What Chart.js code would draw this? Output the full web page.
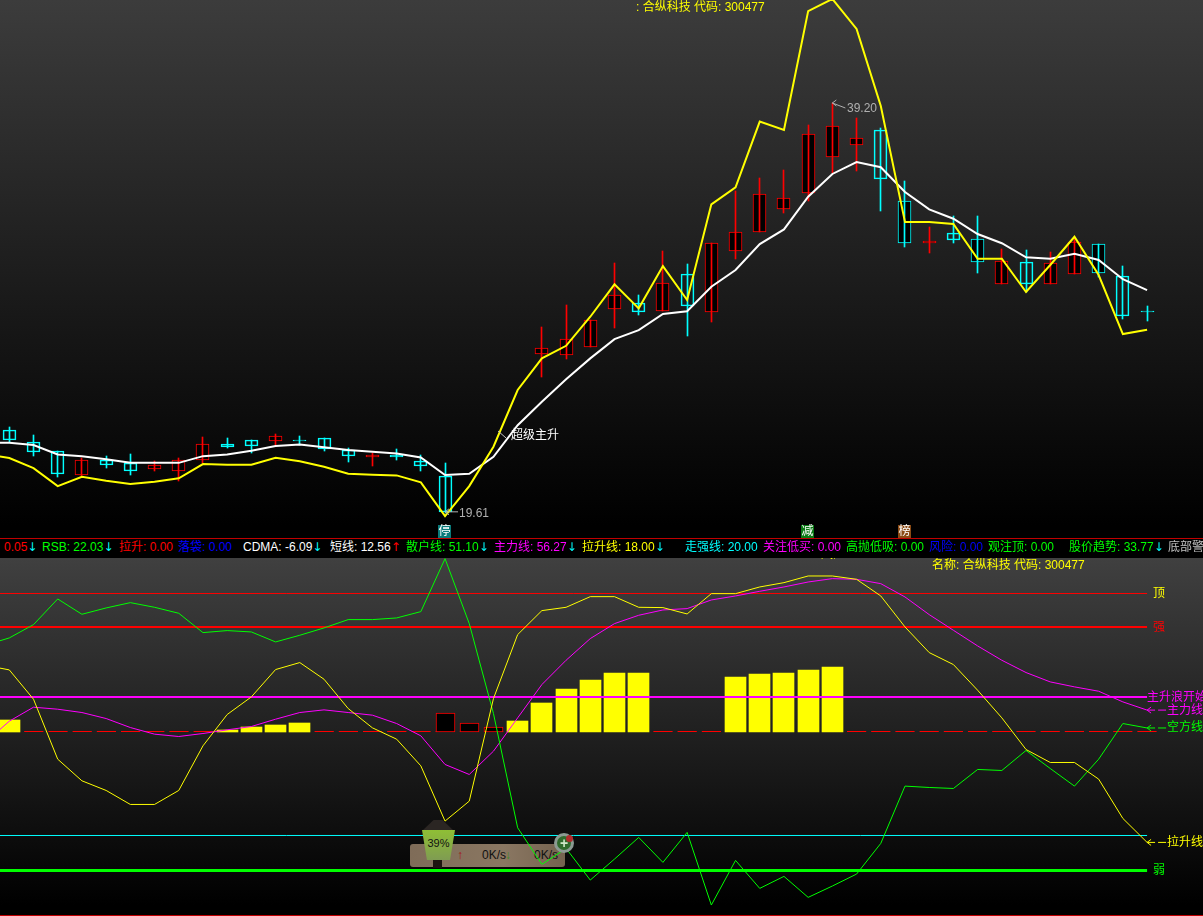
<!DOCTYPE html>
<html>
<head>
<meta charset="utf-8">
<title>合纵科技 300477</title>
<script src="https://cdn.jsdelivr.net/npm/chart.js@4"></script>
<style>
  html, body { margin:0; padding:0; background:#000; width:1203px; height:916px; overflow:hidden; }
  body { position:relative; font:12px "Liberation Sans","Noto Sans CJK SC",sans-serif; }
  .pane { position:absolute; left:0; width:1203px; overflow:hidden; }
  #topPane { top:0; height:538px; background:linear-gradient(#3c3c3c, #000 525px); }
  #statusBar { position:absolute; left:0; top:538px; width:1203px; height:20px; background:#000; border-top:1px solid #c00000; box-sizing:border-box; overflow:hidden; }
  #bottomPane { top:558px; height:357px; background:linear-gradient(#404040, #000 347px); }
  #bottomEdge { position:absolute; left:0; top:915px; width:1203px; height:1px; background:#c00000; }
  canvas { position:absolute; left:0; top:0; }
  .t { position:absolute; white-space:nowrap; line-height:14px; transform:translateY(-50%); }
  .badge { position:absolute; width:13px; height:13px; top:525px; color:#fff; font-size:12px; line-height:13px; text-align:center; }
  #pill { position:absolute; left:410px; top:286px; width:155px; height:23px; border-radius:3px; background:linear-gradient(90deg,#7f6c58,#8a7762 60%,#75634f); }
  #lamp { position:absolute; left:0; top:0; }
  #roof { position:absolute; left:423px; top:820px; width:30px; height:10px; background:#2b2623; clip-path:polygon(35% 0,65% 0,100% 100%,0 100%); }
  #glass { position:absolute; left:422px; top:830px; width:33px; height:30px; background:linear-gradient(#8fbf35,#7f9c52); clip-path:polygon(0 0,100% 0,85% 100%,15% 100%); color:#111; font-size:11px; line-height:27px; text-align:center; }
  #post { position:absolute; left:433px; top:860px; width:9px; height:8px; background:#1d1410; }
  #plus { position:absolute; left:554px; top:833px; width:14px; height:14px; border:3px solid #8b9a92; border-radius:50%; background:#2f6b2c; color:#cfe8c8; font:bold 14px/14px "Liberation Sans"; text-align:center; }
  #dot { position:absolute; left:566px; top:835px; width:7px; height:7px; border-radius:50%; background:#b02a2a; }
</style>
</head>
<body>
<div id="topPane" class="pane"><canvas id="priceChart" width="1203" height="538"></canvas></div>
<div id="statusBar"></div>
<div id="bottomPane" class="pane">
  <div id="pill"></div>
  <canvas id="indicatorChart" width="1203" height="357"></canvas>
</div>
<div id="bottomEdge"></div>
<div id="lamp"><div id="roof"></div><div id="glass">39%</div><div id="post"></div><div id="plus">+</div><div id="dot"></div></div>

<script>
// bar index, -1 is the bar just off the left edge
const bars = [-1,0,1,2,3,4,5,6,7,8,9,10,11,12,13,14,15,16,17,18,19,20,21,22,23,24,25,26,27,28,29,30,31,32,33,34,35,36,37,38,39,40,41,42,43,44,45,46,47];

const opens = [null,23.56,22.99,22.56,21.44,22.16,21.98,21.70,21.63,22.16,22.89,23.08,23.04,23.10,23.18,22.62,22.27,22.38,22.08,21.36,null,null,null,27.22,27.14,27.53,29.37,29.63,29.25,31.02,29.20,32.11,33.02,34.12,34.89,36.61,37.18,37.90,34.50,32.51,32.97,32.69,30.54,31.59,30.54,31.02,32.45,30.92,29.24];
const closes = [null,23.11,22.54,21.49,22.13,21.92,21.63,21.89,22.13,22.89,22.78,22.83,23.27,23.03,22.68,22.35,22.37,22.27,21.87,19.67,null,null,null,27.48,27.91,28.82,30.01,29.20,30.58,29.51,32.50,33.02,34.84,34.65,37.70,38.09,37.51,35.58,32.52,32.61,32.64,31.59,31.64,30.54,31.54,32.54,31.06,29.01,29.21];
const highs = [null,23.72,23.34,22.57,22.24,22.33,22.43,22.09,22.24,23.24,23.19,23.08,23.38,23.29,23.19,22.72,22.49,22.67,22.38,21.98,null,null,null,28.48,29.53,28.82,31.54,30.01,32.11,31.51,32.50,35.00,35.60,36.00,38.15,39.20,38.48,37.99,35.46,33.26,33.79,33.79,32.21,32.16,32.07,32.81,32.45,31.41,29.50];
const lows = [null,23.00,22.35,21.34,21.39,21.77,21.44,21.60,21.15,22.01,22.73,22.49,22.83,22.86,22.59,22.06,21.87,22.14,21.63,19.61,null,null,null,26.12,26.98,27.53,28.46,29.08,29.25,28.08,28.75,31.76,33.02,33.96,34.53,35.84,35.97,34.05,32.33,32.05,32.52,31.06,30.54,30.17,30.54,31.02,30.87,28.86,28.77];
const blackFilledDown = [37,40,45];

const whiteLine = [22.98,22.97,22.86,22.41,22.32,22.18,22.01,22.01,22.01,22.33,22.41,22.59,22.81,22.89,22.75,22.62,22.54,22.46,22.27,21.43,21.49,22.30,23.81,24.93,26.00,27.00,27.92,28.35,29.12,29.25,30.42,31.22,32.46,33.16,34.72,35.81,36.38,36.13,34.95,34.12,33.67,32.94,32.50,31.83,31.76,32.00,31.70,30.78,30.26];
const yellowLine = [22.43,22.24,21.76,20.90,21.34,21.15,21.00,21.11,21.27,21.95,21.92,21.92,22.25,22.09,21.82,21.49,21.44,21.41,21.08,19.47,20.90,22.78,25.49,27.00,27.60,28.99,30.54,29.39,31.41,29.79,34.36,35.17,38.31,37.91,43.59,44.17,42.74,39.06,33.51,33.51,33.42,31.76,31.76,30.17,31.46,32.81,30.98,28.16,28.37];

const lashen = [69.25,67.90,59.42,42.08,35.82,33.03,28.98,28.98,33.03,45.93,54.99,60.10,68.00,70.02,65.20,56.72,51.14,47.86,40.15,24.16,29.94,59.61,78.11,85.05,86.01,89.09,89.09,86.01,85.92,84.08,89.96,89.96,91.89,93.14,95.07,95.07,94.10,89.29,80.33,72.91,69.44,62.02,54.03,44.87,41.12,41.12,36.30,24.93,18.00];
const zhuli = [46.90,53.06,57.11,56.53,55.57,53.83,51.23,49.31,48.63,49.50,50.56,51.52,53.64,55.57,56.34,55.57,54.80,52.39,48.83,40.54,37.65,44.39,54.03,63.66,70.69,76.96,81.29,83.70,85.24,85.63,88.13,89.29,90.64,91.89,93.33,94.30,94.10,92.85,89.00,83.89,79.36,74.84,70.69,67.13,64.43,62.99,61.73,58.65,56.27];
const kongfang = [75.03,77.15,81.00,88.42,83.99,85.82,87.36,86.01,84.28,78.69,79.27,78.88,75.99,77.92,80.04,82.45,82.45,82.93,84.76,100.08,81.29,55.28,22.23,11.64,16.26,7.11,13.18,19.44,12.22,20.89,-0.12,12.79,4.70,8.17,2.10,5.38,8.84,17.71,34.28,33.89,33.60,39.10,38.80,44.59,39.38,34.28,42.08,52.39,51.10];

const yellowBars = [null,53.35,null,null,null,null,null,null,null,null,50.46,51.33,51.91,52.48,null,null,null,null,null,null,null,null,53.06,58.27,62.31,64.91,66.94,66.94,null,null,null,65.78,66.65,66.94,67.80,68.67,null,null,null,null,null,null,null,null,null,null,null,null,null];
const hollowBars = [null,null,null,null,null,null,null,null,null,null,null,null,null,null,null,null,null,null,null,55.57,52.68,51.52,null,null,null,null,null,null,null,null,null,null,null,null,null,null,null,null,null,null,null,null,null,null,null,null,null,null,null];
const barBase = 50.08;

const levelTop = 90, levelStrong = 80.31, levelMain = 60.06, levelWalk = 20, levelWeak = 9.87;
const lastBar = 47, dashEnd = 47.42;

const statusNames = ['','RSB','拉升','落袋','CDMA','短线','散户线','主力线','拉升线','走强线','关注低买','高抛低吸','风险','观注顶','股价趋势','底部警'];
const statusValues = ['0.05','22.03','0.00','0.00','-6.09','12.56','51.10','56.27','18.00','20.00','0.00','0.00','0.00','0.00','33.77',''];
const statusArrows = ['↓','↓','','','↓','↑','↓','↓','↓','','','','','','↓',''];
const statusColors = ['#ff0000','#00ff00','#ff0000','#0000ff','#ffffff','#ffffff','#00ff00','#ff00ff','#ffff00','#00ffff','#ff00ff','#00ff00','#0000ff','#00ff00','#00ff00','#c0c0c0'];
const statusX = [4,42,119,178,243,330,406,494,582,685,763,846,929,988,1069,1168];

const RED = '#ff0000', CYAN = '#00ffff', YELLOW = '#ffff00', WHITE = '#ffffff', MAGENTA = '#ff00ff', GREEN = '#00ff00';
const xMin = -0.384, xMax = 49.31;

function qs(s){ return document.querySelector(s); }
function addText(parent, text, x, y, color){
  const el = document.createElement('div');
  el.className = 't'; el.textContent = text; el.style.left = x + 'px'; el.style.top = y + 'px'; el.style.color = color;
  parent.appendChild(el);
  return el;
}
function addBadge(text, x, color){
  const el = document.createElement('div');
  el.className = 'badge'; el.textContent = text; el.style.left = x + 'px'; el.style.background = color;
  qs('#topPane').appendChild(el);
}

// small arrow-headed leader lines, anchored on data values
const leaderPlugin = {
  id: 'leaders',
  afterDatasetsDraw: function(chart, args, opts){
    const ctx = chart.ctx;
    (opts.items || []).forEach(function(it){
      const x = chart.scales.x.getPixelForValue(it.bar), y = chart.scales.y.getPixelForValue(it.value);
      ctx.save();
      ctx.strokeStyle = it.color; ctx.lineWidth = 1;
      ctx.setLineDash(it.dash || []);
      ctx.beginPath(); ctx.moveTo(x, y); ctx.lineTo(x + it.dx, y + it.dy); ctx.stroke();
      ctx.setLineDash([]);
      if (it.head) { ctx.beginPath(); ctx.moveTo(x + 4, y - 3); ctx.lineTo(x, y); ctx.lineTo(x + 4, y + 3); ctx.stroke(); }
      ctx.restore();
    });
  }
};

// snap bars to whole pixels so the 1px wicks and borders stay sharp
const snapPlugin = {
  id: 'snapBars',
  afterDatasetsUpdate: function(chart){
    chart.getSortedVisibleDatasetMetas().forEach(function(meta){
      if (meta.type !== 'bar') return;
      meta.data.forEach(function(el){
        if (el.skip) return;
        el.x = Math.floor(el.x) + 0.5;
        el.y = Math.round(el.y); el.base = Math.round(el.base);
        if (el.y === el.base) el.base = el.y + 1;
      });
    });
  }
};

function baseOptions(yMin, yMax, items){
  return {
    responsive: false, animation: false, devicePixelRatio: 1,
    layout: { padding: 0 },
    events: [],
    plugins: { legend: { display: false }, tooltip: { enabled: false }, leaders: { items: items } },
    scales: {
      x: { type: 'linear', min: xMin, max: xMax, offset: false, display: false },
      y: { type: 'linear', min: yMin, max: yMax, display: false, beginAtZero: false }
    }
  };
}
function lineSet(data, color, width, order){
  return { type: 'line', data: data, borderColor: color, borderWidth: width, pointRadius: 0, tension: 0, fill: false, order: order, spanGaps: false };
}
function levelSet(value, color, width, order, end){
  return { type: 'line', data: [{ x: xMin, y: value }, { x: end, y: value }], borderColor: color, borderWidth: width, pointRadius: 0, tension: 0, fill: false, order: order };
}

function drawPrice(){
  const isUp = opens.map(function(o, i){ return o !== null && closes[i] >= o; });
  const colors = isUp.map(function(u){ return u ? RED : CYAN; });
  const fills = bars.map(function(b, i){ return (isUp[i] || blackFilledDown.indexOf(b) >= 0) ? '#000000' : 'rgba(0,0,0,0)'; });
  new Chart(qs('#priceChart'), {
    type: 'bar',
    data: {
      labels: bars,
      datasets: [
        lineSet(yellowLine, YELLOW, 2, 0),
        lineSet(whiteLine, WHITE, 2, 1),
        { label: 'wick', data: lows.map(function(l, i){ return l === null ? null : [l, highs[i]]; }), backgroundColor: colors, borderWidth: 0, barThickness: 1, grouped: false, order: 2 },
        { label: 'body', data: opens.map(function(o, i){ return o === null ? null : [o, closes[i]]; }), backgroundColor: fills, borderColor: colors, borderWidth: 1, borderSkipped: false, barThickness: 13, grouped: false, order: 3 }
      ]
    },
    options: baseOptions(18.42, 44.12, [
      { bar: 18, value: 19.67, dx: 13, dy: 0, color: '#b0b0b0', head: true },
      { bar: 34, value: 39.20, dx: 13, dy: 5, color: '#b0b0b0', head: true },
      { bar: 20.19, value: 23.53, dx: 8, dy: 7, color: '#c8c8c8' }
    ]),
    plugins: [leaderPlugin, snapPlugin]
  });
}

function drawIndicator(){
  const pair = function(v){ return v === null ? null : [barBase, v]; };
  new Chart(qs('#indicatorChart'), {
    type: 'bar',
    data: {
      labels: bars,
      datasets: [
        lineSet(lashen, YELLOW, 1, 0),
        lineSet(kongfang, GREEN, 1, 1),
        lineSet(zhuli, MAGENTA, 1, 2),
        levelSet(levelWeak, GREEN, 3, 3, lastBar),
        levelSet(levelWalk, CYAN, 1, 3, lastBar),
        levelSet(levelMain, MAGENTA, 2, 3, lastBar),
        levelSet(levelStrong, RED, 2, 3, lastBar),
        levelSet(levelTop, RED, 1, 3, lastBar),
        { label: 'up', data: yellowBars.map(pair), backgroundColor: YELLOW, borderWidth: 0, barThickness: 21, grouped: false, order: 4 },
        { label: 'hollow', data: hollowBars.map(pair), backgroundColor: '#000000', borderColor: RED, borderWidth: 1, borderSkipped: false, barThickness: 19, grouped: false, order: 4 },
        Object.assign(levelSet(barBase, RED, 1, 5, dashEnd), { borderDash: [19.2, 5] })
      ]
    },
    options: baseOptions(-3.0, 100.269, [
      { bar: lastBar, value: zhuli[zhuli.length - 1], dx: 19, dy: 0, color: MAGENTA, head: true, dash: [8, 3] },
      { bar: lastBar, value: kongfang[kongfang.length - 1], dx: 19, dy: 0, color: GREEN, head: true, dash: [8, 3] },
      { bar: lastBar, value: lashen[lashen.length - 1], dx: 19, dy: 0, color: YELLOW, head: true, dash: [8, 3] }
    ]),
    plugins: [leaderPlugin, snapPlugin]
  });
}

function drawStatus(){
  const bar = qs('#statusBar');
  statusNames.forEach(function(name, i){
    let s = statusValues[i];
    if (name) s = s ? name + ': ' + s : name;
    const el = addText(bar, s, statusX[i], 8, statusColors[i]);
    if (statusArrows[i]) {
      const a = document.createElement('span');
      a.textContent = statusArrows[i];
      a.style.color = statusArrows[i] === '↑' ? RED : CYAN;
      a.style.fontFamily = '"DejaVu Sans"';
      el.appendChild(a);
    }
  });
}

function drawTexts(){
  const top = qs('#topPane'), bottom = qs('#bottomPane');
  addText(top, ': 合纵科技 代码: 300477', 636, 7, YELLOW);
  addText(top, '19.61', 459, 512.5, '#b0b0b0');
  addText(top, '39.20', 847, 108, '#b0b0b0');
  addText(top, '超级主升', 511, 435, WHITE);
  addBadge('停', 438, '#0a7a7a');
  addBadge('减', 801, '#0a7a14');
  addBadge('榜', 898, '#8a4a14');

  addText(bottom, '←风险', 809, -4, YELLOW);
  addText(bottom, '名称: 合纵科技 代码: 300477', 932, 7, YELLOW);
  addText(bottom, '顶', 1153, 35, YELLOW);
  addText(bottom, '强', 1153, 69, RED);
  addText(bottom, '主升浪开始', 1147, 139, MAGENTA);
  addText(bottom, '主力线', 1167, 152, MAGENTA);
  addText(bottom, '空方线', 1167, 169, GREEN);
  addText(bottom, '拉升线', 1167, 284, YELLOW);
  addText(bottom, '弱', 1153, 312, GREEN);

  const pill = qs('#pill');
  addText(pill, '↑', 47, 11, '#a01818').style.fontWeight = 'bold';
  addText(pill, '0K/s', 72, 11, '#111111');
  addText(pill, '↓', 95, 11, '#3f8a22').style.fontWeight = 'bold';
  addText(pill, '0K/s', 124, 11, '#111111');
}

document.addEventListener('DOMContentLoaded', function(){
  drawPrice(); drawIndicator(); drawStatus(); drawTexts();
});
</script>
</body>
</html>
